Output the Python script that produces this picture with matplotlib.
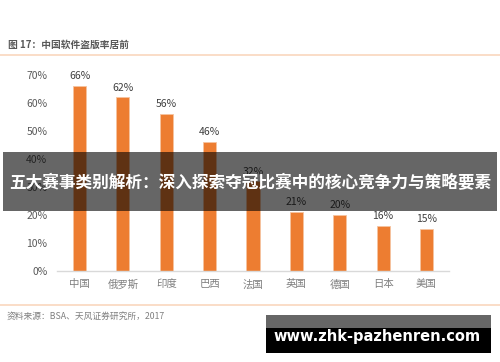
import matplotlib
matplotlib.use("Agg")
import matplotlib.pyplot as plt
from matplotlib.patches import Rectangle
from matplotlib.lines import Line2D

plt.rcParams['font.family'] = ['Noto Sans CJK SC', 'DejaVu Sans']

categories = ['中国', '俄罗斯', '印度', '巴西', '法国', '英国', '德国', '日本', '美国']
values = [66, 62, 56, 46, 32, 21, 20, 16, 15]
yticks = [0, 10, 20, 30, 40, 50, 60, 70]

W, H = 500, 362
fig = plt.figure(figsize=(W / 100, H / 100), dpi=100)

def fx(px):
    return px / W

def fy(py):
    return 1 - py / H

ax = fig.add_axes([fx(57), fy(271), fx(449) - fx(57), fy(75) - fy(271)])
x = list(range(len(categories)))
ax.bar(x, values, width=0.3, color='#ED7D31', edgecolor='#F6C3A0', linewidth=0.6, zorder=2)
for xi, v in zip(x, values):
    ax.annotate(f'{v}%', (xi, v), xytext=(0, 3.5), textcoords='offset points',
                ha='center', va='bottom', fontsize=7.5, color='#404040', clip_on=False)
ax.set_xlim(-0.52, len(categories) - 0.48)
ax.set_ylim(0, 70)
ax.set_yticks(yticks)
ax.set_yticklabels([f'{t}%' for t in yticks], fontsize=7.5, color='#595959')
ax.set_xticks(x)
ax.set_xticklabels(categories, fontsize=7.5, color='#7F7F7F')
for s in ['top', 'right', 'left']:
    ax.spines[s].set_visible(False)
ax.spines['bottom'].set_color('#D9D9D9')
ax.spines['bottom'].set_linewidth(1.0)
ax.tick_params(axis='both', length=0)
ax.tick_params(axis='y', pad=7)
ax.tick_params(axis='x', pad=6)

# Title and decorations
fig.text(fx(8), fy(45), '图 17：中国软件盗版率居前', fontsize=7, fontweight='bold',
         color='#595959', ha='left', va='center')
fig.add_artist(Line2D([0, 1], [fy(55), fy(55)], color='#FAD7BE', linewidth=1.2))
fig.add_artist(Line2D([0, 1], [fy(305), fy(305)], color='#FAD7BE', linewidth=1.2))
fig.text(fx(7), fy(316), '资料来源：BSA、天风证券研究所，2017', fontsize=6.3,
         color='#7F7F7F', ha='left', va='center')

# Overlay banner
fig.add_artist(Rectangle((fx(3), fy(211)), fx(497) - fx(3), fy(152) - fy(211),
                         transform=fig.transFigure, facecolor='black', alpha=0.6,
                         edgecolor='none', zorder=10))
fig.text(0.5, fy(183), '五大赛事类别解析：深入探索夺冠比赛中的核心竞争力与策略要素',
         fontsize=12.0, fontweight='bold', color='white', ha='center', va='center', zorder=11)

# Watermark
fig.add_artist(Rectangle((fx(266), fy(328)), fx(491) - fx(266), fy(315) - fy(328),
                         transform=fig.transFigure, facecolor='#666666',
                         edgecolor='none', zorder=10))
fig.add_artist(Rectangle((fx(266), fy(353)), fx(491) - fx(266), fy(328) - fy(353),
                         transform=fig.transFigure, facecolor='black',
                         edgecolor='none', zorder=10))
fig.text(fx(377), fy(337), 'www.zhk-pazhenren.com', fontsize=10.5, fontweight='bold',
         color='white', ha='center', va='center', zorder=11, family=['DejaVu Sans'])

fig.savefig('out.png', dpi=100)
